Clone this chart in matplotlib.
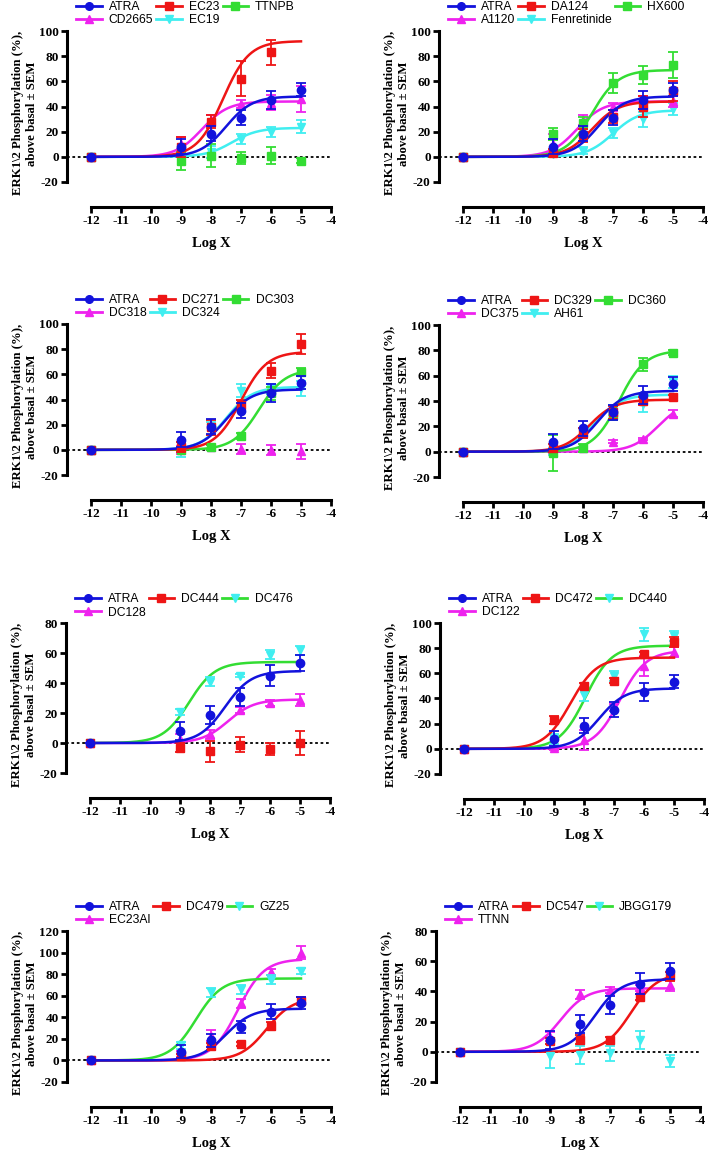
import numpy as np
import matplotlib.pyplot as plt
from matplotlib.lines import Line2D

nan = np.nan

# log concentrations of the measured points
LOG_DOSE = [-12, -9, -8, -7, -6, -5]

# mean ERK1/2 phosphorylation (% above basal) and SEM for each compound
ATRA = [0, 8, 18.5, 31, 45, 53.5]
ATRA_SEM = [0, 6, 6, 6, 7, 5.5]
EC23 = [0, 8, 28, 62, 83, nan]
EC23_SEM = [0, 8, 5, 14, 10, nan]
TTNPB = [0, -3.5, 1, -1, 1, -3]
TTNPB_SEM = [0, 7, 9, 5, 7, 2]
CD2665 = [0, 10, 29, 42, 43, 46]
CD2665_SEM = [0, 6, 4, 3, 6, 10]
EC19 = [0, 3, 4, 14, 20, 24]
EC19_SEM = [0, 3, 5, 4, 4, 5]

DA124 = [0, 3, 17, 32, 40, 52]
DA124_SEM = [0, 3, 5, 5, 8, 8]
HX600 = [0, 18, 27, 59, 65, 73]
HX600_SEM = [0, 5, 5, 8, 7, 10]
A1120 = [0, 10, 29, 40, 43, 44]
A1120_SEM = [0, 8, 4, 3, 5, 4]
FENRETINIDE = [0, 2, 5, 19, 30, 38]
FENRETINIDE_SEM = [0, 2, 3, 4, 6, 5]

DC271 = [0, 2, 18, 36, 63, 84]
DC271_SEM = [0, 4, 6, 4, 6, 8]
DC303 = [0, 0, 2, 11, 45, 62]
DC303_SEM = [0, 2, 2, 2, 5, 3]
DC318 = [0, 0, 2, 1, -0.5, -1]
DC318_SEM = [0, 3, 2, 4, 4, 6]
DC324 = [0, 0, 17, 47, 48, 49]
DC324_SEM = [0, 6, 5, 5, 4, 6]

DC329 = [0, 3, 15, 31, 40, 43]
DC329_SEM = [0, 3, 4, 5, 3, 2]
DC360 = [0, -1, 3, 29, 69, 78]
DC360_SEM = [0, 14, 3, 4, 5, 2]
DC375 = [0, 0, 3, 8, 10, 30]
DC375_SEM = [0, 1, 1, 1, 1, 3]
AH61 = [0, 0, 15, 33, 38, 55]
AH61_SEM = [0, 3, 4, 4, 7, 5]

DC444 = [0, -3, -5.5, -1, -4, 0]
DC444_SEM = [0, 3, 7, 5, 4, 8]
DC476 = [0, 21, 41, 45, 59, 62]
DC476_SEM = [0, 2, 3, 1, 3, 3]
DC128 = [0, 3, 6, 22, 27, 29]
DC128_SEM = [0, 3, 3, 2, 2, 4]

DC472 = [0, 23, 50, 54, 75, 85]
DC472_SEM = [0, 3, 2, 2, 2, 4]
DC440 = [0, 8, 43, 58, 91, 90]
DC440_SEM = [0, 4, 5, 4, 5, 4]
DC122 = [0, 1, 7, 33, 66, 77]
DC122_SEM = [0, 2, 8, 3, 8, 4]

DC479 = [0, 4, 13, 15, 32, 55]
DC479_SEM = [0, 2, 3, 2, 4, 4]
GZ25 = [0, 14, 63, 66, 75, 83]
GZ25_SEM = [0, 3, 4, 4, 4, 3]
EC23AL = [0, 6, 23, 53, 82, 100]
EC23AL_SEM = [0, 3, 5, 4, 3, 6]

DC547 = [0, 7, 8, 8, 36, 50]
DC547_SEM = [0, 2, 3, 2, 2, 3]
JBGG179 = [0, -3, -2, -1, 8, -6]
JBGG179_SEM = [0, 8, 6, 5, 6, 4]
TTNN = [0, 10, 38, 41, 42, 44]
TTNN_SEM = [0, 3, 3, 2, 2, 4]

# fitted sigmoid parameters (top, logEC50); compounds without a fit are absent
FIT_TOP = {"ATRA": 48, "EC23": 92, "CD2665": 44, "EC19": 23,
           "DA124": 44, "HX600": 69, "A1120": 44, "Fenretinide": 37,
           "DC271": 78, "DC303": 64, "DC324": 50,
           "DC329": 41, "DC360": 80, "DC375": 40, "AH61": 45,
           "DC476": 54, "DC128": 29,
           "DC472": 72.5, "DC440": 82, "DC122": 78,
           "DC479": 58, "GZ25": 76, "EC23Al": 94,
           "DC547": 52, "TTNN": 42}
FIT_LOGEC50 = {"ATRA": -7.5, "EC23": -7.6, "CD2665": -8.3, "EC19": -7.3,
               "DA124": -7.7, "HX600": -7.7, "A1120": -8.2, "Fenretinide": -7.0,
               "DC271": -7.0, "DC303": -6.4, "DC324": -7.5,
               "DC329": -7.8, "DC360": -6.8, "DC375": -5.5, "AH61": -7.6,
               "DC476": -8.7, "DC128": -7.4,
               "DC472": -8.45, "DC440": -7.95, "DC122": -6.8,
               "DC479": -6.15, "GZ25": -8.5, "EC23Al": -7.1,
               "DC547": -6.3, "TTNN": -8.65}

MEANS = {"ATRA": ATRA, "EC23": EC23, "TTNPB": TTNPB, "CD2665": CD2665, "EC19": EC19,
         "DA124": DA124, "HX600": HX600, "A1120": A1120, "Fenretinide": FENRETINIDE,
         "DC271": DC271, "DC303": DC303, "DC318": DC318, "DC324": DC324,
         "DC329": DC329, "DC360": DC360, "DC375": DC375, "AH61": AH61,
         "DC444": DC444, "DC476": DC476, "DC128": DC128,
         "DC472": DC472, "DC440": DC440, "DC122": DC122,
         "DC479": DC479, "GZ25": GZ25, "EC23Al": EC23AL,
         "DC547": DC547, "JBGG179": JBGG179, "TTNN": TTNN}
SEMS = {"ATRA": ATRA_SEM, "EC23": EC23_SEM, "TTNPB": TTNPB_SEM, "CD2665": CD2665_SEM,
        "EC19": EC19_SEM, "DA124": DA124_SEM, "HX600": HX600_SEM, "A1120": A1120_SEM,
        "Fenretinide": FENRETINIDE_SEM, "DC271": DC271_SEM, "DC303": DC303_SEM,
        "DC318": DC318_SEM, "DC324": DC324_SEM, "DC329": DC329_SEM, "DC360": DC360_SEM,
        "DC375": DC375_SEM, "AH61": AH61_SEM, "DC444": DC444_SEM, "DC476": DC476_SEM,
        "DC128": DC128_SEM, "DC472": DC472_SEM, "DC440": DC440_SEM, "DC122": DC122_SEM,
        "DC479": DC479_SEM, "GZ25": GZ25_SEM, "EC23Al": EC23AL_SEM,
        "DC547": DC547_SEM, "JBGG179": JBGG179_SEM, "TTNN": TTNN_SEM}

PANELS = [["ATRA", "EC23", "TTNPB", "CD2665", "EC19"],
          ["ATRA", "DA124", "HX600", "A1120", "Fenretinide"],
          ["ATRA", "DC271", "DC303", "DC318", "DC324"],
          ["ATRA", "DC329", "DC360", "DC375", "AH61"],
          ["ATRA", "DC444", "DC476", "DC128"],
          ["ATRA", "DC472", "DC440", "DC122"],
          ["ATRA", "DC479", "GZ25", "EC23Al"],
          ["ATRA", "DC547", "JBGG179", "TTNN"]]
Y_MAX = [100, 100, 100, 100, 80, 100, 120, 80]

# panel layout in pixels: y-axis x, top of y range, bottom (-20) of y range
LAYOUT = [(67, 31, 182), (439, 31, 182), (67, 324, 475), (439, 325, 477),
          (66, 623, 773), (440, 623, 774), (67, 931, 1082), (436, 931, 1082)]

W, H = 709, 1151
BLUE, RED, GREEN, MAGENTA, CYAN = "#1212DC", "#EE1515", "#33DD33", "#EE22EE", "#40EEF0"

plt.rcParams["axes.unicode_minus"] = False
SERIF = "Liberation Serif"
SANS = "Liberation Sans"


def styles(panel_idx):
    # (line colour, marker colour, marker) per slot
    third = (GREEN, GREEN, "s") if panel_idx < 4 else (GREEN, CYAN, "v")
    return [(BLUE, BLUE, "o"), (RED, RED, "s"), third,
            (MAGENTA, MAGENTA, "^"), (CYAN, CYAN, "v")]


def sigmoid(x, top, logec50):
    return top / (1 + 10 ** (logec50 - x))


def draw_panel(fig, idx):
    x0, top, bottom = LAYOUT[idx]
    ymax = Y_MAX[idx]
    hpx = bottom - top
    ax = fig.add_axes([x0 / W, 1 - bottom / H, 264 / W, hpx / H])
    ax.set_xlim(-12.8, -4)
    ax.set_ylim(-20, ymax)

    ax.axhline(0, color="black", lw=1.3, ls=(0, (1.5, 1.5)), zorder=1)

    xs = np.linspace(-12, -5, 300)
    handles = []
    names = PANELS[idx]
    sty = styles(idx)
    for k in reversed(range(len(names))):
        name = names[k]
        lc, mc, mk = sty[k]
        if name in FIT_TOP:
            ax.plot(xs, sigmoid(xs, FIT_TOP[name], FIT_LOGEC50[name]),
                    color=lc, lw=1.8, zorder=2 + (len(names) - k))
        ax.errorbar(LOG_DOSE, MEANS[name], yerr=SEMS[name], fmt=mk, color=mc,
                    ms=6, elinewidth=1.3, capsize=3.4, capthick=1.3,
                    zorder=3 + (len(names) - k))
    for k, name in enumerate(names):
        lc, mc, mk = sty[k]
        handles.append(Line2D([], [], color=lc, lw=2, marker=mk, ms=5.5,
                              mfc=mc, mec=mc))

    # row-wise legend order for 3 columns
    if len(names) == 5:
        order = [0, 3, 1, 4, 2]
    else:
        order = [0, 3, 1, 2]
    ax.legend([handles[i] for i in order], [names[i] for i in order],
              ncol=3, loc="lower left", bbox_to_anchor=(0.035, 1.03),
              frameon=False, borderpad=0, borderaxespad=0,
              handlelength=2.1, handletextpad=0.6, columnspacing=0.25,
              labelspacing=0.1, prop={"family": SANS, "size": 8.7})

    for s in ["top", "right"]:
        ax.spines[s].set_visible(False)
    ax.spines["left"].set_linewidth(2.2)
    ax.spines["bottom"].set_linewidth(2.2)
    ax.spines["bottom"].set_position(("outward", 18))
    ax.spines["bottom"].set_bounds(-12, -4)
    ax.spines["left"].set_bounds(-20, ymax)

    ax.set_xticks(range(-12, -3))
    ax.set_yticks(range(-20, ymax + 1, 20))
    ax.tick_params(width=2, length=4, pad=2)
    for lab in ax.get_xticklabels() + ax.get_yticklabels():
        lab.set_fontfamily(SERIF)
        lab.set_fontweight("bold")
        lab.set_fontsize(9.5)

    ax.set_xlabel("Log X", family=SERIF, weight="bold", fontsize=10.5)
    ax.xaxis.set_label_coords(0.545, -55 / hpx)
    ax.set_ylabel("ERK1\\2 Phosphorylation (%),\nabove basal \u00b1 SEM",
                  family=SERIF, weight="bold", fontsize=9.2, linespacing=1.25)
    ax.yaxis.set_label_coords(-0.108, 0.455)


if __name__ == "__main__":
    fig = plt.figure(figsize=(W / 100, H / 100), dpi=100)
    for i in range(8):
        draw_panel(fig, i)
    fig.savefig("out.png", dpi=100, facecolor="white")
